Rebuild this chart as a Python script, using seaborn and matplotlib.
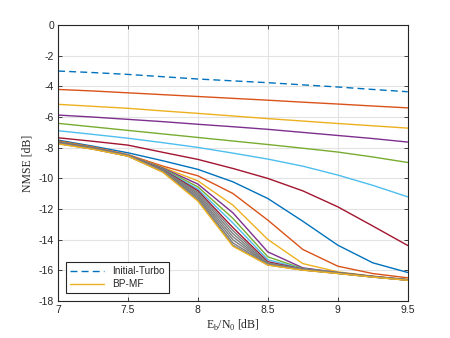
import matplotlib
matplotlib.use("Agg")
import matplotlib.pyplot as plt
import seaborn as sns
import pandas as pd
from matplotlib.lines import Line2D

ebn0 = [7.0, 7.25, 7.5, 7.75, 8.0, 8.25, 8.5, 8.75, 9.0, 9.25, 9.5]

initial_turbo = [-3.00, -3.10, -3.22, -3.37, -3.52, -3.64, -3.76, -3.90, -4.04, -4.20, -4.35]

it1 = [-4.20, -4.30, -4.42, -4.54, -4.66, -4.78, -4.90, -5.03, -5.15, -5.28, -5.40]
it2 = [-5.17, -5.30, -5.43, -5.60, -5.76, -5.93, -6.10, -6.26, -6.42, -6.57, -6.72]
it3 = [-5.87, -6.00, -6.15, -6.30, -6.47, -6.63, -6.80, -7.00, -7.20, -7.40, -7.63]
it4 = [-6.41, -6.64, -6.87, -7.10, -7.33, -7.56, -7.79, -8.03, -8.28, -8.60, -8.96]
it5 = [-6.89, -7.13, -7.38, -7.67, -7.98, -8.35, -8.74, -9.20, -9.78, -10.45, -11.20]
it6 = [-7.35, -7.58, -7.83, -8.30, -8.76, -9.35, -10.00, -10.81, -11.85, -13.10, -14.37]
it7 = [-7.50, -7.90, -8.33, -8.85, -9.41, -10.22, -11.31, -12.79, -14.35, -15.50, -16.13]
it8 = [-7.55, -7.95, -8.45, -9.20, -9.83, -10.98, -12.72, -14.63, -15.72, -16.20, -16.48]
it9 = [-7.58, -7.98, -8.47, -9.28, -10.16, -11.74, -13.98, -15.55, -16.09, -16.37, -16.59]
it10 = [-7.60, -8.00, -8.48, -9.33, -10.37, -12.24, -14.79, -15.83, -16.13, -16.38, -16.60]
it11 = [-7.62, -8.01, -8.49, -9.37, -10.55, -12.60, -15.11, -15.88, -16.14, -16.39, -16.61]
it12 = [-7.64, -8.02, -8.50, -9.40, -10.70, -12.90, -15.30, -15.90, -16.15, -16.40, -16.61]
it13 = [-7.66, -8.03, -8.51, -9.43, -10.80, -13.20, -15.43, -15.92, -16.16, -16.40, -16.62]
it14 = [-7.68, -8.04, -8.52, -9.46, -10.90, -13.40, -15.50, -15.93, -16.17, -16.41, -16.62]
it15 = [-7.69, -8.05, -8.52, -9.49, -11.00, -13.60, -15.55, -15.94, -16.17, -16.41, -16.62]
it16 = [-7.70, -8.06, -8.53, -9.51, -11.10, -13.80, -15.58, -15.95, -16.18, -16.42, -16.63]
it17 = [-7.71, -8.07, -8.53, -9.54, -11.20, -14.00, -15.60, -15.96, -16.18, -16.42, -16.63]
it18 = [-7.72, -8.08, -8.54, -9.56, -11.30, -14.20, -15.62, -15.96, -16.19, -16.42, -16.63]
it19 = [-7.73, -8.09, -8.54, -9.58, -11.40, -14.35, -15.64, -15.97, -16.19, -16.43, -16.63]
it_final = [-7.75, -8.10, -8.55, -9.60, -11.48, -14.42, -15.65, -15.98, -16.20, -16.43, -16.64]

mblue, morange, myellow = "#0072BD", "#D95319", "#EDB120"
mpurple, mgreen, mlblue, mred = "#7E2F8E", "#77AC30", "#4DBEEE", "#A2142F"
gray = "#7f7f7f"

curves = [
    (it1, morange), (it2, myellow), (it3, mpurple), (it4, mgreen), (it5, mlblue), (it6, mred),
    (it7, mblue), (it8, morange), (it9, myellow), (it10, mpurple), (it11, mgreen), (it12, mlblue),
    (it13, mred), (it14, gray), (it15, gray), (it16, gray), (it17, gray), (it18, gray), (it19, gray),
    (it_final, myellow),
]

sns.set_theme(style="white")
plt.rcParams['font.family'] = ['Liberation Sans', 'DejaVu Sans']
plt.rcParams['mathtext.fontset'] = 'custom'
plt.rcParams['mathtext.rm'] = 'Liberation Serif'

fig = plt.figure(figsize=(4.5, 3.38), dpi=100)
ax = fig.add_axes([0.129, 0.109, 0.777, 0.817])

sns.lineplot(x=ebn0, y=initial_turbo, ax=ax, color=mblue, linestyle=(0, (5, 3)), linewidth=1.0)
for vals, col in curves:
    sns.lineplot(x=ebn0, y=vals, ax=ax, color=col, linewidth=1.0)

ax.set_xlim(7, 9.5)
ax.set_ylim(-18, 0)
ax.set_xticks([7, 7.5, 8, 8.5, 9, 9.5])
ax.set_xticklabels(["7", "7.5", "8", "8.5", "9", "9.5"])
ax.set_yticks(list(range(-18, 1, 2)))
ax.set_yticklabels([str(v) for v in range(-18, 1, 2)])
ax.grid(True, color="#e3e3e3", linewidth=0.8)
ax.set_axisbelow(True)
for s in ax.spines.values():
    s.set_color("#262626")
    s.set_linewidth(0.8)
ax.tick_params(direction="in", length=3, width=0.6, colors="#262626", labelsize=7.5,
               top=True, right=True, bottom=True, left=True, pad=3)
for lab in ax.get_xticklabels() + ax.get_yticklabels():
    lab.set_color("#262626")

ax.set_xlabel(r"E$_\mathrm{b}$/N$_\mathrm{0}$ [dB]", family="Liberation Serif", fontsize=8.5, color="#262626", labelpad=2)
ax.set_ylabel("NMSE [dB]", family="Liberation Serif", fontsize=8.5, color="#262626", labelpad=4)

handles = [Line2D([0], [0], color=mblue, linestyle=(0, (5, 3)), linewidth=1.0),
           Line2D([0], [0], color=myellow, linewidth=1.0)]
leg = ax.legend(handles, ["Initial-Turbo", "BP-MF"], loc="lower left", fontsize=7.2,
                frameon=True, fancybox=False, edgecolor="#262626", framealpha=1,
                borderpad=0.4, handlelength=3.4, labelspacing=0.3, borderaxespad=0.8)
leg.get_frame().set_linewidth(0.8)

fig.savefig("out.png", dpi=100)
